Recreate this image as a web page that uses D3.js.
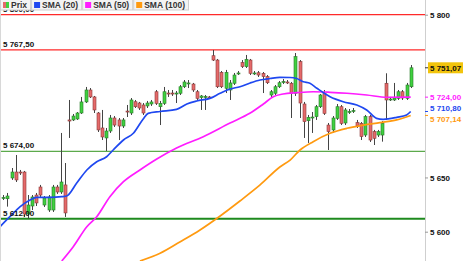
<!DOCTYPE html>
<html><head><meta charset="utf-8">
<script src="https://cdn.jsdelivr.net/npm/d3@7"></script>
<style>body{margin:0;background:#fff}svg{display:block;font-family:"Liberation Sans",Arial,sans-serif}</style>
</head><body><svg id="c" width="464" height="261"></svg>
<script>
// ---- data ----
const opens=[5631.1,5630.4,5649.5,5655.0,5655.0,5655.0,5616.3,5623.7,5633.8,5641.2,5624.6,5620.0,5620.0,5641.2,5636.6,5643.1,5703.0,5703.0,5703.9,5709.4,5719.6,5730.6,5724.2,5709.4,5695.6,5686.4,5692.8,5704.8,5703.0,5697.4,5711.2,5709.4,5719.8,5718.6,5716.8,5715.9,5717.7,5729.0,5715.2,5718.3,5727.8,5727.8,5727.4,5727.6,5733.6,5736.8,5736.1,5729.0,5723.7,5724.4,5724.2,5762.2,5758.2,5746.9,5732.2,5730.6,5736.8,5745.8,5755.8,5752.1,5758.2,5746.0,5746.5,5746.0,5742.9,5726.0,5727.6,5733.6,5738.2,5738.0,5736.8,5727.6,5756.7,5717.7,5702.3,5705.3,5706.0,5715.2,5727.6,5698.3,5693.8,5704.5,5715.2,5700.2,5710.6,5711.2,5700.5,5699.9,5689.1,5706.0,5692.2,5689.1,5689.1,5736.8,5722.0,5721.4,5722.9,5729.0,5722.9,5733.6];
const highs=[5633.8,5635.7,5658.7,5670.7,5656.9,5656.0,5633.8,5633.8,5635.7,5643.1,5632.9,5633.8,5643.1,5643.1,5691.0,5663.3,5721.4,5708.5,5710.3,5724.2,5733.4,5732.4,5725.1,5710.3,5712.2,5695.6,5707.6,5706.6,5704.8,5704.8,5716.8,5723.2,5721.4,5719.6,5718.6,5720.5,5721.4,5730.6,5720.5,5733.4,5730.6,5730.6,5729.7,5735.2,5739.8,5739.8,5737.1,5730.6,5726.0,5726.0,5725.1,5767.5,5759.2,5748.1,5749.1,5739.8,5746.3,5748.1,5758.2,5762.9,5759.2,5748.1,5748.1,5747.2,5744.4,5730.6,5735.2,5738.9,5740.7,5739.8,5738.0,5764.7,5758.2,5719.6,5707.6,5710.3,5716.8,5726.9,5730.6,5700.2,5706.6,5717.7,5716.8,5714.0,5713.1,5714.0,5703.0,5701.1,5707.6,5707.6,5693.8,5693.8,5702.0,5746.0,5724.2,5737.1,5730.6,5730.6,5737.1,5753.6];
const lows=[5629.2,5623.1,5647.7,5645.8,5652.3,5613.6,5611.7,5620.0,5623.7,5632.0,5622.8,5618.2,5618.2,5634.8,5634.8,5613.6,5686.4,5702.0,5703.0,5708.5,5718.6,5723.2,5709.4,5691.9,5684.5,5674.4,5691.0,5696.5,5684.5,5695.6,5705.7,5707.6,5714.0,5712.2,5707.6,5714.0,5715.9,5716.8,5698.3,5716.8,5724.2,5725.1,5718.6,5726.0,5732.4,5732.4,5728.8,5721.4,5712.2,5712.2,5722.3,5757.3,5732.4,5732.4,5727.8,5721.4,5735.2,5744.4,5750.9,5750.9,5744.4,5744.4,5742.6,5727.8,5736.1,5724.2,5726.0,5732.4,5736.1,5736.1,5704.8,5725.1,5704.8,5686.4,5681.8,5691.0,5703.0,5714.0,5707.6,5675.3,5691.0,5703.0,5698.3,5698.3,5708.5,5709.4,5695.6,5684.5,5687.3,5682.7,5679.9,5687.3,5683.0,5703.0,5720.5,5720.5,5721.4,5721.4,5721.4,5732.4];
const closes=[5631.5,5632.9,5655.0,5647.7,5654.1,5616.3,5624.6,5632.0,5626.5,5633.8,5631.1,5632.0,5641.2,5636.6,5645.8,5617.3,5702.0,5706.6,5709.4,5719.6,5730.6,5724.2,5712.2,5693.8,5687.3,5692.8,5704.8,5698.3,5697.4,5703.0,5710.8,5721.4,5715.2,5714.0,5709.4,5718.6,5719.6,5718.3,5718.3,5729.0,5727.4,5727.4,5727.8,5733.6,5738.0,5737.1,5730.6,5722.9,5725.1,5724.6,5724.0,5758.2,5733.6,5733.6,5746.9,5737.1,5744.4,5746.3,5752.1,5758.9,5746.0,5746.3,5744.4,5742.9,5737.3,5729.0,5733.6,5737.3,5738.4,5737.8,5727.6,5761.3,5718.6,5701.4,5705.4,5705.7,5715.2,5726.0,5709.1,5692.2,5704.8,5715.2,5699.9,5712.2,5710.8,5711.7,5697.4,5687.6,5706.0,5684.5,5686.1,5692.2,5699.9,5721.4,5722.3,5723.2,5729.0,5723.2,5735.2,5751.07];
// moving averages: [candle index, value]
const sma20=[[-0.8,5604.6],[1.6,5613.8],[4.1,5623.1],[6.5,5629.2],[8.1,5631.7],[11.4,5631.7],[14.2,5632.3],[15.4,5632.9],[17.8,5644.6],[20.3,5656.9],[22.7,5664.5],[25.1,5669.1],[26.7,5675.3],[29.2,5684.5],[31.6,5690.7],[34.0,5703.9],[35.2,5709.1],[38.1,5710.8],[42.1,5712.8],[44.6,5717.7],[47.0,5720.5],[50.2,5722.9],[52.7,5727.6],[55.1,5731.5],[57.5,5733.6],[60.0,5737.1],[62.4,5739.8],[64.8,5741.2],[67.2,5742.3],[69.7,5742.1],[71.3,5741.2],[72.9,5738.2],[74.5,5736.8],[76.2,5732.2],[79.4,5724.4],[82.6,5719.8],[85.9,5716.8],[88.3,5712.2],[90.7,5704.5],[92.3,5703.6],[95.6,5705.4],[98.0,5707.6],[99.0,5710.8]];
const sma50=[[14.2,5573.0],[17.0,5586.2],[20.3,5604.6],[22.7,5613.8],[25.9,5632.3],[29.2,5646.1],[33.2,5656.9],[37.3,5667.0],[42.1,5677.1],[48.6,5687.6],[55.1,5700.2],[59.9,5709.1],[63.2,5717.7],[65.6,5724.4],[68.0,5726.9],[71.3,5728.1],[75.3,5729.0],[79.4,5728.5],[83.5,5727.6],[88.3,5726.0],[93.2,5723.9],[99.0,5724.0]];
const sma100=[[33.2,5573.0],[38.1,5580.1],[42.9,5590.5],[47.8,5601.6],[52.7,5614.5],[57.5,5628.3],[62.4,5643.1],[67.2,5659.6],[69.7,5666.0],[72.1,5675.3],[75.3,5683.0],[79.4,5690.7],[83.5,5695.3],[87.5,5698.3],[91.5,5700.5],[95.6,5703.0],[99.0,5707.14]];
const levelsRed=[5800,5767.5];
const levelsGreen=[5674,5612];
const axisTicks=[5800,5650,5600];
const legendNames=["Prix","SMA (20)","SMA (50)","SMA (100)"];
const lastValues=[5751.07,5724.00,5710.80,5707.14];

// ---- drawing ----
const W=464,H=261,plotR=425;
const svg=d3.select("#c");
const loc=d3.formatLocale({decimal:",",thousands:"\u00a0",grouping:[3],currency:["",""]});
const f2=loc.format(",.2f"), f0=loc.format(",.0f");
const x=d3.scaleLinear().domain([0,opens.length-1]).range([3.3,410.7]);
const y=d3.scaleLinear().domain([5600,5800]).range([231.7,14.7]);

svg.append("defs").append("clipPath").attr("id","pc").append("rect").attr("x",0).attr("y",0).attr("width",plotR).attr("height",H);
const g=svg.append("g").attr("clip-path","url(#pc)");

// level lines
levelsRed.forEach(v=>g.append("line").attr("x1",0).attr("x2",plotR).attr("y1",y(v)).attr("y2",y(v)).attr("stroke","#ff2a2a").attr("stroke-width",1.3));
g.append("line").attr("x1",0).attr("x2",plotR).attr("y1",y(levelsGreen[0])).attr("y2",y(levelsGreen[0])).attr("stroke","#5caa4c").attr("stroke-width",1.3);
g.append("line").attr("x1",0).attr("x2",plotR).attr("y1",y(levelsGreen[1])).attr("y2",y(levelsGreen[1])).attr("stroke","#1e8a1e").attr("stroke-width",2);

// candles
const idx=d3.range(opens.length);
g.selectAll(".w").data(idx).join("line").attr("x1",i=>Math.round(x(i))+0.5).attr("x2",i=>Math.round(x(i))+0.5)
 .attr("y1",i=>y(highs[i])).attr("y2",i=>y(lows[i])).attr("stroke","#444").attr("stroke-width",1);
g.selectAll(".b").data(idx).join("rect")
 .attr("x",i=>Math.round(x(i))-1).attr("width",3)
 .attr("y",i=>y(Math.max(opens[i],closes[i])))
 .attr("height",i=>Math.max(1,Math.abs(y(opens[i])-y(closes[i]))))
 .attr("fill",i=>closes[i]>=opens[i]?"#3fd13f":"#e56a6a")
 .attr("stroke",i=>closes[i]>=opens[i]?"#2a7a2a":"#8a3a3a").attr("stroke-width",0.6);

// moving averages
const ln=d3.line().x(d=>x(d[0])).y(d=>y(d[1])).curve(d3.curveMonotoneX);
[[sma100,"#ff9a10"],[sma50,"#ff1cff"],[sma20,"#1f48f0"]].forEach(([d,c])=>
  g.append("path").attr("d",ln(d)).attr("fill","none").attr("stroke",c).attr("stroke-width",1.7));

// level labels (left)
const lvl=[...levelsRed,...levelsGreen];
lvl.forEach(v=>svg.append("text").attr("x",3).attr("y",y(v)-3).attr("font-size",8).attr("font-weight","bold").attr("fill","#111").text(f2(v)));

// plot borders
svg.append("line").attr("x1",plotR+0.5).attr("x2",plotR+0.5).attr("y1",0).attr("y2",H).attr("stroke","#cfcfcf");
svg.append("line").attr("x1",0.5).attr("x2",0.5).attr("y1",0).attr("y2",H).attr("stroke","#d8d8d8");

// right axis
const ax=svg.append("g").attr("transform",`translate(${plotR},0)`)
 .call(d3.axisRight(y).tickValues(axisTicks).tickSize(3).tickPadding(2).tickFormat(f0));
ax.select(".domain").remove();
ax.selectAll("line").attr("stroke","#999");
ax.selectAll("text").attr("font-size",8).attr("font-weight","bold").attr("fill","#111").attr("font-family","Liberation Sans, Arial, sans-serif");

// last value labels
const lvCols=["#111","#ff1cff","#1f48f0","#ff9a10"];
const lvPos=[y(lastValues[0]),y(lastValues[1]),0,0];
const mid=(y(lastValues[2])+y(lastValues[3]))/2;
lvPos[2]=mid-5.6; lvPos[3]=mid+5.6;
lastValues.forEach((v,k)=>{
  const cy=lvPos[k];
  svg.append("line").attr("x1",plotR).attr("x2",plotR+3).attr("y1",y(v)).attr("y2",y(v)).attr("stroke",k==0?"#333":lvCols[k]);
  if(k==0) svg.append("rect").attr("x",plotR+3).attr("y",cy-5.5).attr("width",35).attr("height",11).attr("fill","#f2c40c");
  else svg.append("rect").attr("x",plotR+3).attr("y",cy-5.5).attr("width",36).attr("height",11).attr("fill","#fff");
  svg.append("text").attr("x",plotR+5).attr("y",cy+3).attr("font-size",8).attr("font-weight","bold").attr("fill",lvCols[k]).text(f2(v));
});

// legend
const legCols=[null,"#1f48f0","#ff1cff","#ff9a10"];
const leg=svg.append("g");
let lx=0;
legendNames.forEach((n,k)=>{
  const it=leg.append("g");
  const bg=it.append("rect").attr("y",-1).attr("height",11).attr("fill","#f3f3f3").attr("stroke","#cfcfcf");
  if(k==0){
    it.append("rect").attr("x",lx+3).attr("y",2).attr("width",3).attr("height",6).attr("fill","#e56a6a");
    it.append("rect").attr("x",lx+6).attr("y",2).attr("width",3).attr("height",6).attr("fill","#3fd13f");
  } else {
    it.append("rect").attr("x",lx+3).attr("y",2).attr("width",6).attr("height",6).attr("fill",legCols[k]);
  }
  const t=it.append("text").attr("x",lx+11).attr("y",8).attr("font-size",8.5).attr("font-weight","bold").attr("fill","#333").text(n);
  const w=t.node().getComputedTextLength()+14;
  bg.attr("x",lx+0.5).attr("width",w);
  lx+=w+1;
});
</script></body></html>
